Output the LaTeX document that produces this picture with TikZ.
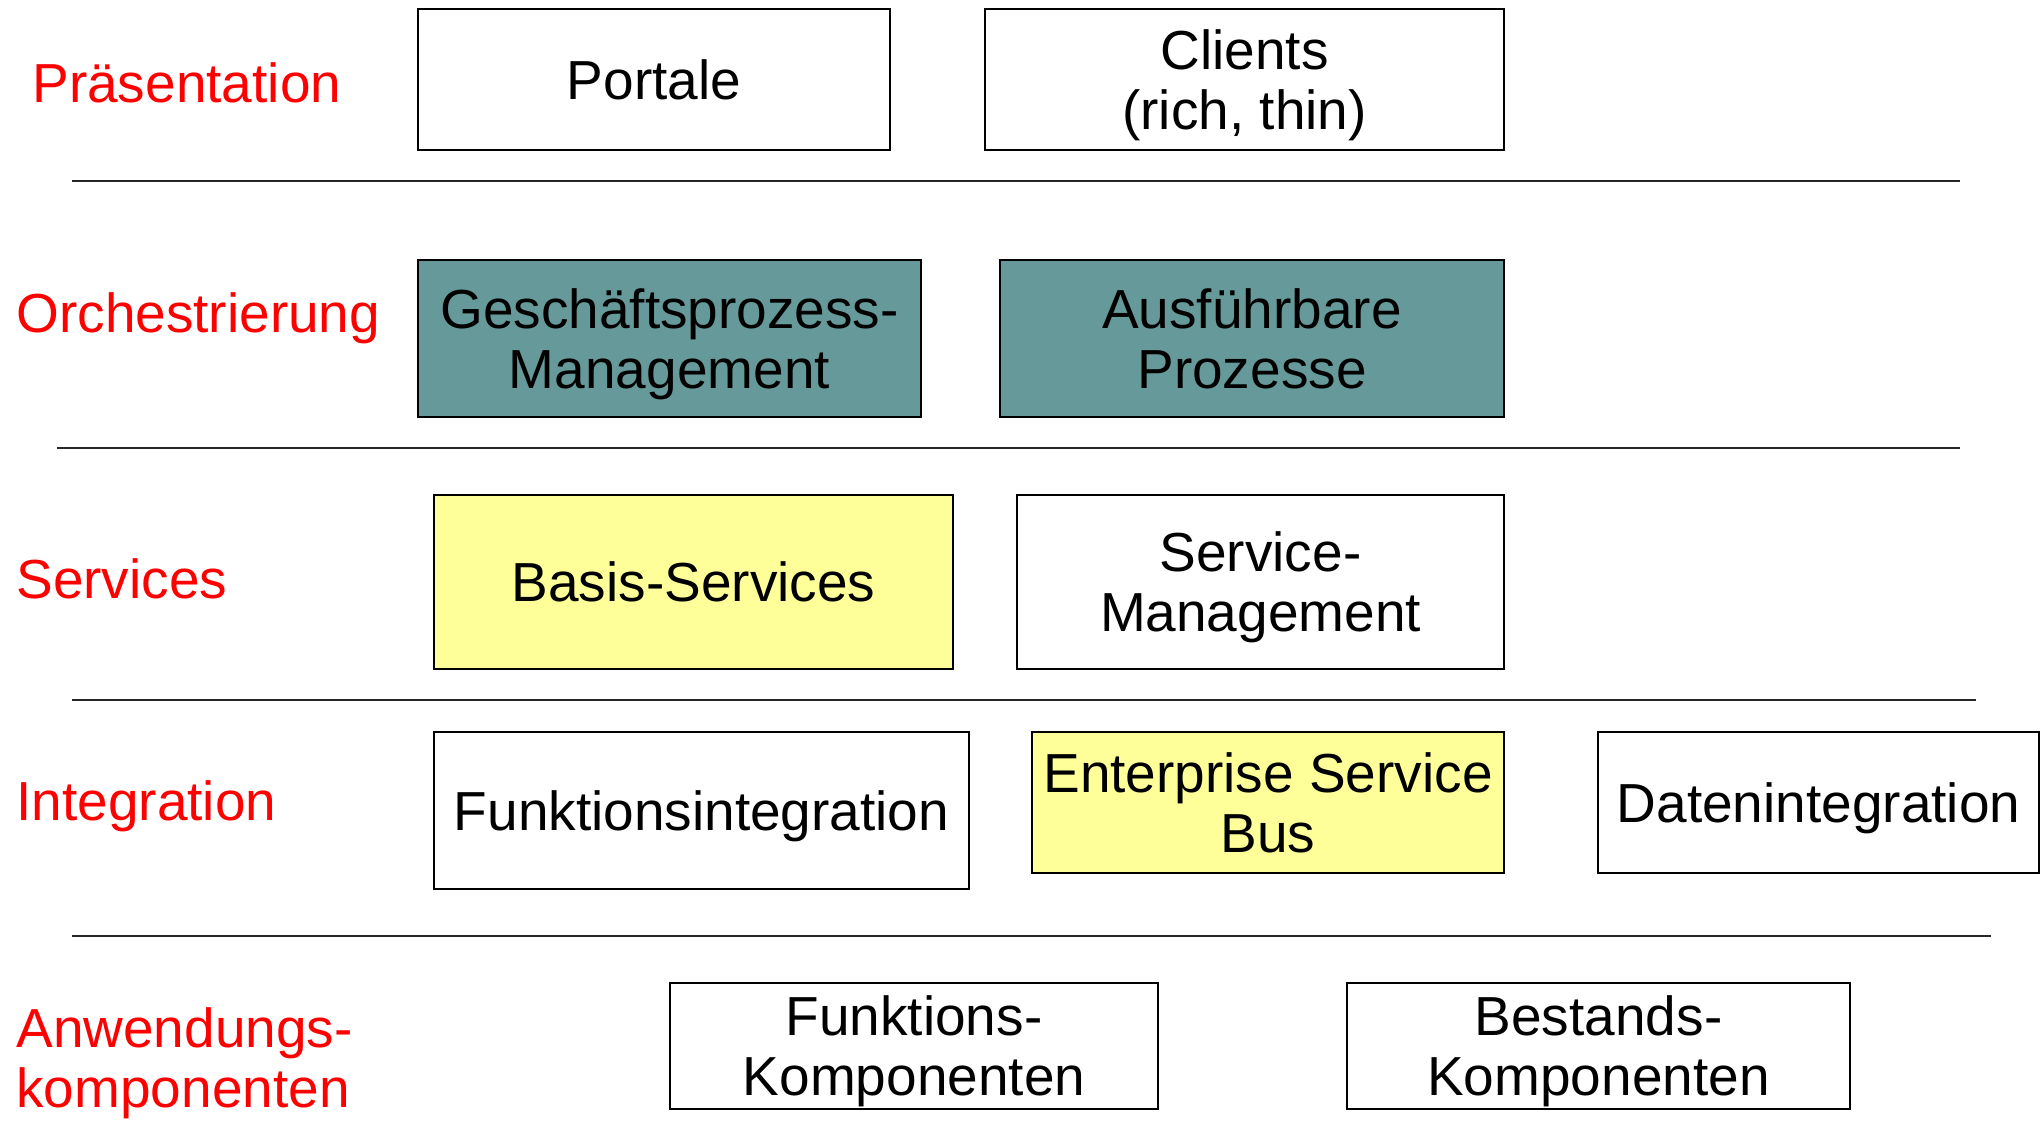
\documentclass[tikz,border=0pt]{standalone}
\usepackage{fontspec}
\setmainfont{Liberation Sans}
\definecolor{teal1}{RGB}{102,153,153}
\definecolor{yellow1}{RGB}{255,255,153}
\definecolor{red1}{RGB}{255,0,0}
\begin{document}
\begin{tikzpicture}[x=0.5pt,y=-0.5pt,
  every node/.style={font=\fontsize{27.5}{30}\selectfont},
  box/.style={draw=black, line width=1.1pt, fill=white, inner sep=0pt, align=center, text depth=0pt},
  tealbox/.style={box, fill=teal1},
  yelbox/.style={box, fill=yellow1},
  layer/.style={text=red1, anchor=base west, inner sep=0pt},
  sep/.style={line width=1.3pt, draw=black!85}]
\useasboundingbox (0,0) rectangle (2043,1136);

% separators
\draw[sep] (72,181) -- (1960,181);
\draw[sep] (57,448) -- (1960,448);
\draw[sep] (72,700) -- (1976,700);
\draw[sep] (72,936) -- (1991,936);

% layer labels
\node[layer] (lp) at (32,102) {Präsentation};
\node[layer] (lo) at (16,332) {Orchestrierung};
\node[layer] (ls) at (16,598) {Services};
\node[layer] (li) at (16,820) {Integration};
\node[layer] (la1) at (16,1047) {Anwendungs-};
\node[layer] (la2) at (16,1107) {komponenten};

% boxes
\node[box, minimum width=236pt, minimum height=70.5pt] (portale) at (654,79.5) {Portale};
\node[box, minimum width=259.5pt, minimum height=70.5pt] (clients) at (1244.5,79.5) {Clients\\(rich, thin)};
\node[tealbox, minimum width=251.5pt, minimum height=78.5pt] (gpm) at (669.5,338.5) {Geschäftsprozess-\\Management};
\node[tealbox, minimum width=252pt, minimum height=78.5pt] (ausf) at (1252,338.5) {Ausführbare\\Prozesse};
\node[yelbox, minimum width=259.5pt, minimum height=87pt] (basis) at (693.5,582) {Basis-Services};
\node[box, minimum width=243.5pt, minimum height=87pt] (svcm) at (1260.5,582) {Service-\\Management};
\node[box, minimum width=267.5pt, minimum height=78.5pt] (funkint) at (701.5,810.5) {Funktionsintegration};
\node[yelbox, minimum width=236pt, minimum height=70.5pt] (esb) at (1268,802.5) {Enterprise Service\\Bus};
\node[box, minimum width=220.5pt, minimum height=70.5pt] (daten) at (1818.5,802.5) {Datenintegration};
\node[box, minimum width=244pt, minimum height=63pt] (fkomp) at (914,1046) {Funktions-\\Komponenten};
\node[box, minimum width=251.5pt, minimum height=63pt] (bkomp) at (1598.5,1046) {Bestands-\\Komponenten};
\end{tikzpicture}
\end{document}
